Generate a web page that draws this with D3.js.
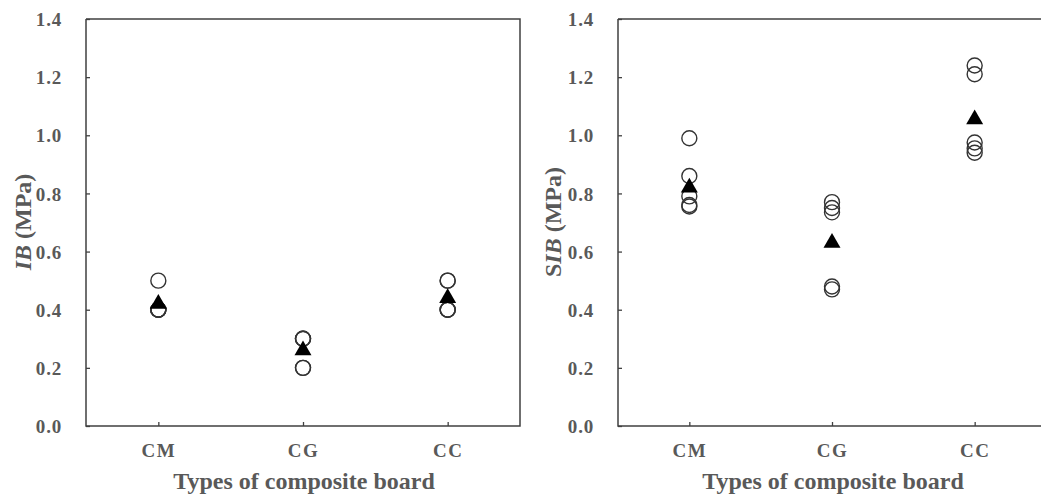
<!DOCTYPE html>
<html lang="en">
<head>
    <meta charset="UTF-8">
    <title>IB / SIB by composite board</title>
    <style>
        body { margin: 0; padding: 0; background: #fff; }
        svg text { font-family: "Liberation Serif", "Times New Roman", serif; font-weight: bold; fill: #595959; }
    </style>
</head>
<body>
<script src="https://d3js.org/d3.v7.min.js"></script>
<script>
    // data
    const boards = ['CM', 'CG', 'CC'];
    const yTicks = [0, 0.2, 0.4, 0.6, 0.8, 1.0, 1.2, 1.4];
    // IB replicate values (MPa)
    const ibCM = [0.50, 0.40, 0.40, 0.40, 0.40];
    const ibCG = [0.30, 0.30, 0.30, 0.20, 0.20];
    const ibCC = [0.50, 0.40, 0.40, 0.40, 0.50];
    const ibMean = [0.42, 0.26, 0.44];
    // SIB replicate values (MPa)
    const sibCM = [0.99, 0.86, 0.79, 0.76, 0.755];
    const sibCG = [0.77, 0.75, 0.735, 0.48, 0.47];
    const sibCC = [1.24, 1.21, 0.975, 0.955, 0.94];
    const sibMean = [0.82, 0.63, 1.055];

    const width = 1041, height = 494;
    const svg = d3.select('body').append('svg')
        .attr('width', width).attr('height', height);

    function panel(opt) {
        const g = svg.append('g');
        const x = d3.scalePoint().domain(boards).range([opt.x0, opt.x1]).padding(0.5);
        const y = d3.scaleLinear().domain([0, 1.4]).range([426, 19]);

        // frame
        g.append('path')
            .attr('d', `M${opt.x0},19V426H${opt.x1}` + (opt.closed ? `V19H${opt.x0}` : `M${opt.x0},19H${opt.x1}`))
            .attr('fill', 'none').attr('stroke', '#404040').attr('stroke-width', 1.5);

        // y axis
        const ya = g.append('g').attr('transform', `translate(${opt.x0},0)`)
            .call(d3.axisRight(y).tickValues(yTicks).tickSize(4).tickFormat(d3.format('.1f')));
        ya.select('.domain').remove();
        ya.selectAll('line').attr('stroke', '#404040').attr('stroke-width', 1.3);
        ya.selectAll('text').attr('x', -24).attr('text-anchor', 'end')
            .attr('dy', '0.35em').style('font-size', '19px').style('letter-spacing', '0.8px');

        // x axis
        const xa = g.append('g').attr('transform', 'translate(0,426)')
            .call(d3.axisTop(x).tickSize(4));
        xa.select('.domain').remove();
        xa.selectAll('line').attr('stroke', '#404040').attr('stroke-width', 1.3);
        xa.selectAll('text').attr('y', 31).attr('dy', 0)
            .style('font-size', '19px').style('letter-spacing', '1.5px');

        // replicate circles
        const pts = [];
        opt.reps.forEach((arr, i) => arr.forEach(v => pts.push({ b: boards[i], v: v })));
        g.append('g').selectAll('circle').data(pts).join('circle')
            .attr('cx', d => x(d.b)).attr('cy', d => y(d.v)).attr('r', 7.5)
            .attr('fill', 'none').attr('stroke', '#333').attr('stroke-width', 1.4);

        // mean triangles
        const tri = d3.symbol().type(d3.symbolTriangle).size(125);
        g.append('g').selectAll('path').data(opt.mean).join('path')
            .attr('d', tri)
            .attr('transform', (d, i) => `translate(${x(boards[i])},${y(d)})`)
            .attr('fill', '#000');

        // titles
        const cx = (opt.x0 + opt.x1) / 2;
        g.append('text').attr('x', opt.tx).attr('y', 489).attr('text-anchor', 'middle')
            .style('font-size', '24px').text('Types of composite board');
        const yt = g.append('text')
            .attr('transform', `translate(${opt.ty},222) rotate(-90)`)
            .attr('text-anchor', 'middle').style('font-size', '24px');
        opt.title.forEach(t => yt.append('tspan').style('font-style', t[1] ? 'italic' : 'normal').text(t[0]));
    }

    panel({ x0: 86, x1: 520, closed: true, ty: 31, tx: 304, reps: [ibCM, ibCG, ibCC], mean: ibMean,
        title: [['IB', true], [' (MPa)', false]] });
    panel({ x0: 618, x1: 1046, closed: false, ty: 561, tx: 833, reps: [sibCM, sibCG, sibCC], mean: sibMean,
        title: [['S', false], ['IB', true], [' (MPa)', false]] });
</script>
</body>
</html>
